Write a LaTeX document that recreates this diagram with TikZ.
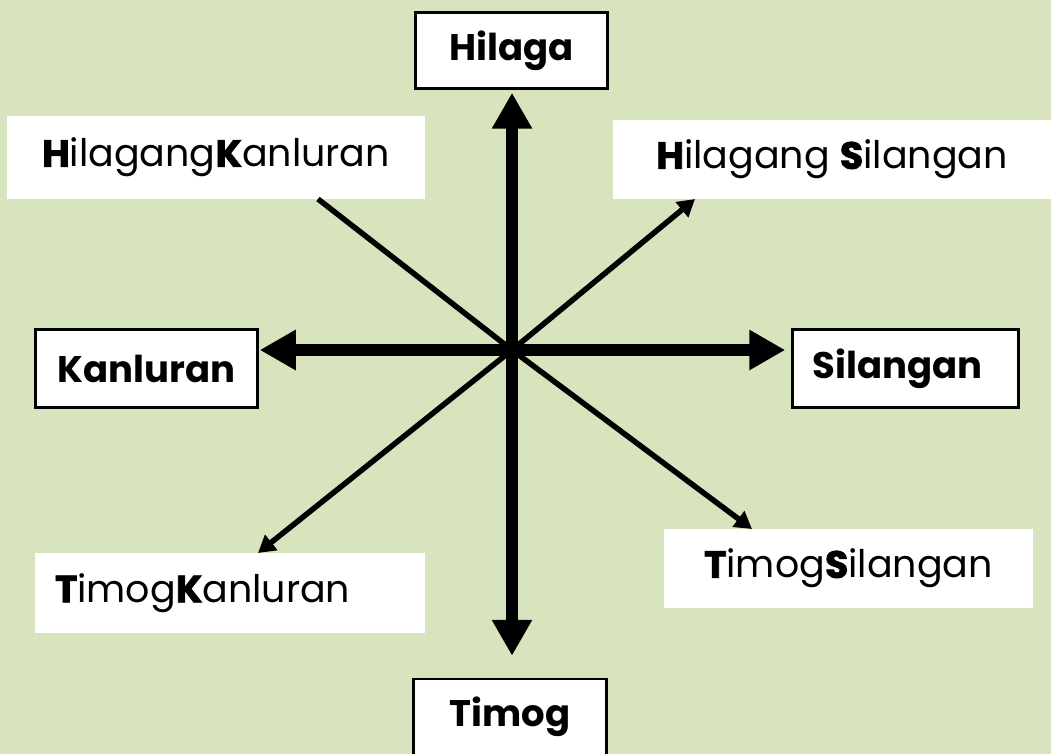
\documentclass[tikz,border=0pt]{standalone}
\usepackage{fontspec}
\usepackage{tikz}
\usetikzlibrary{positioning, arrows.meta, calc}
\newfontfamily\cardfont{Poppins}
\newfontfamily\diagfont{Poppins}
\newfontfamily\heavyfont{Poppins}[BoldFeatures={FakeBold=2}]
\definecolor{pageGreen}{HTML}{D7E4BD}
\newcommand{\bigletter}[1]{{\heavyfont\bfseries #1}}

\begin{document}
\begin{tikzpicture}[x=1pt, y=-1pt,
					cardbox/.style={draw=black, line width=2.5pt, fill=white, font=\cardfont\bfseries\fontsize{37}{40}\selectfont, inner sep=0pt},
					diagbox/.style={fill=white, font=\diagfont\fontsize{38}{42}\selectfont, inner sep=0pt},
					bigarrow/.style={line width=12pt, {Triangle[length=36pt,width=38pt]}-{Triangle[length=36pt,width=38pt]}},
					thinarrow/.style={line width=5.5pt, -{Triangle[length=17pt,width=19pt]}}]
					\fill[pageGreen] (0,0) rectangle (1051,754);
					\useasboundingbox (0,0) rectangle (1051,754);
					\clip (0,0) rectangle (1051,754);
					% compass boxes
					\node[cardbox, minimum width=192pt, minimum height=76pt] (hilaga) at (511.5,50.5) {Hilaga};
					\node[cardbox, minimum width=222pt, minimum height=78pt] (kanluran) at (146.5,368.5) {Kanluran};
					\node[cardbox, minimum width=226pt, minimum height=78pt, text width=206pt, align=left] (silangan) at (905.5,368.5) {\hspace*{10pt}Silangan};
					\node[cardbox, minimum width=193pt, minimum height=76pt] (timog) at (510,717) {Timog};
					\node[diagbox, minimum width=418pt, minimum height=83pt] (hk) at (216,157.5) {\bigletter{H}ilagang\bigletter{K}anluran};
					\node[diagbox, minimum width=438pt, minimum height=79pt] (hs) at (832,159.5) {\bigletter{H}ilagang \bigletter{S}ilangan};
					\node[diagbox, minimum width=390pt, minimum height=80pt, text width=350pt, align=left] (tk) at (230,593) {\bigletter{T}imog\bigletter{K}anluran};
					\node[diagbox, minimum width=369pt, minimum height=79pt] (ts) at (848.5,568.5) {\bigletter{T}imog\bigletter{S}ilangan};
					% arrows
					\coordinate (c) at (512,350);
					\coordinate (nwend) at (318,199);
					\coordinate (netip) at (695,199);
					\coordinate (swtip) at (258,553);
					\coordinate (setip) at (752,529);
					\draw[bigarrow, shorten <=3pt, shorten >=22pt] (hilaga.south -| c) -- (timog.north -| c);
					\draw[bigarrow, shorten <=1pt, shorten >=6pt] (kanluran.east |- c) -- (silangan.west |- c);
					\draw[line width=5.5pt] (c) -- (nwend);
					\draw[thinarrow] (c) -- (netip);
					\draw[thinarrow] (c) -- (swtip);
					\draw[thinarrow] (c) -- (setip);
				\end{tikzpicture}
\end{document}
